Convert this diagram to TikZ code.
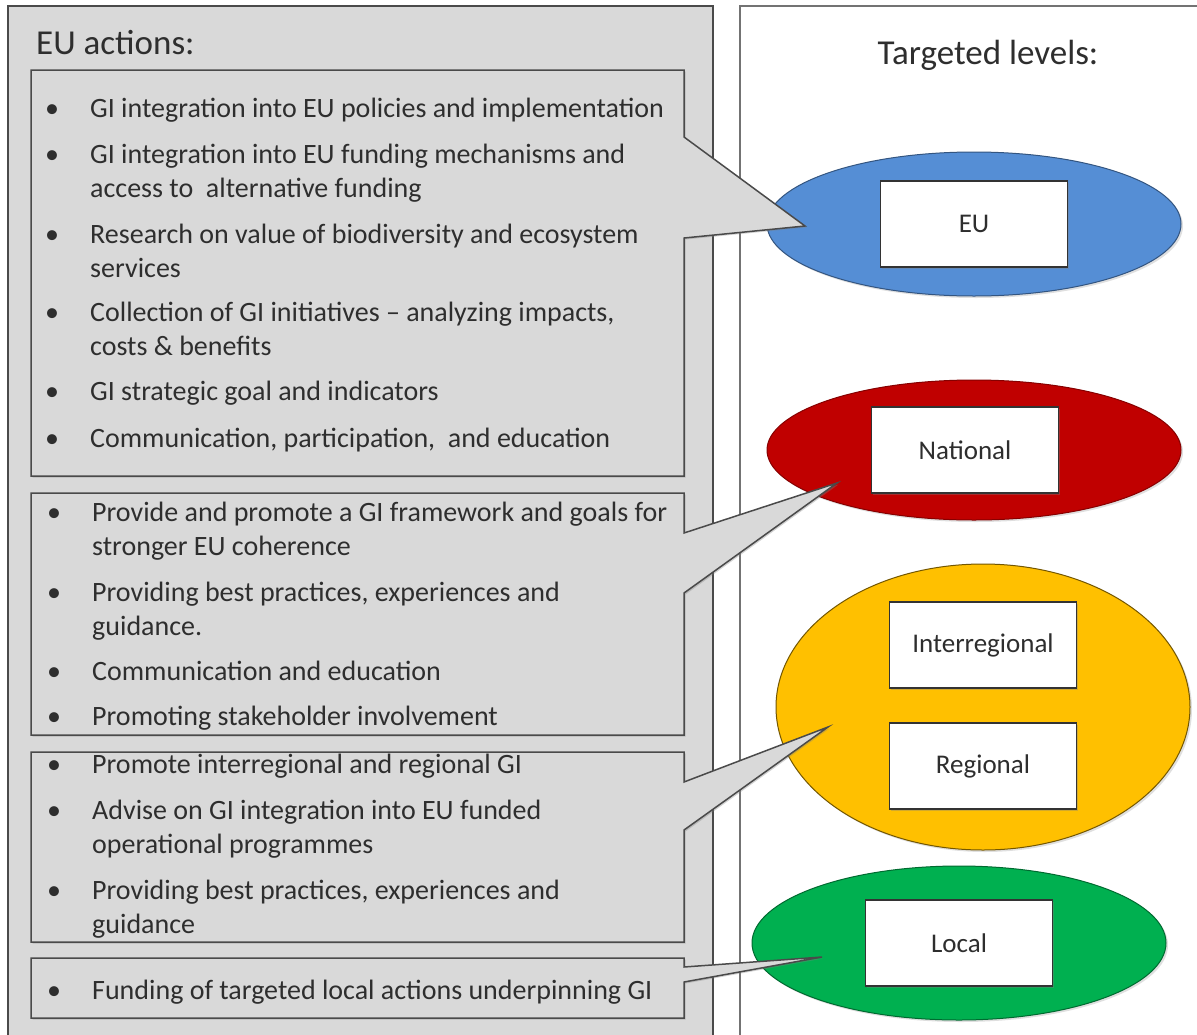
\documentclass[tikz,border=0pt]{standalone}
\usepackage{fontspec}
\setmainfont{Carlito}
\usetikzlibrary{shapes.geometric,shadows}

\definecolor{panelgray}{HTML}{D9D9D9}
\definecolor{boxline}{HTML}{4A4A4A}
\definecolor{txt}{HTML}{2E2E2E}
\definecolor{eublue}{HTML}{558ED5}
\definecolor{natred}{HTML}{C00000}
\definecolor{regyellow}{HTML}{FFC000}
\definecolor{locgreen}{HTML}{00B050}

\newcommand{\actbul}{\llap{\makebox[45pt][l]{\textbullet}}}

\tikzset{
  callout/.style={draw=boxline, fill=panelgray, line width=1.5pt,
    drop shadow={shadow xshift=1.5pt, shadow yshift=-1.5pt, opacity=0.35}},
  act/.style={anchor=base west, align=left, inner sep=0pt, text=txt,
    font=\fontsize{28}{34}\selectfont},
  level/.style={ellipse, inner sep=0pt, minimum width=414pt, line width=1pt,
    drop shadow={shadow xshift=2pt, shadow yshift=-2pt, opacity=0.25}},
  lvlbox/.style={draw=black!80, fill=white, line width=1.2pt, minimum width=187pt,
    minimum height=86pt, text=txt, font=\fontsize{27}{32}\selectfont,
    drop shadow={shadow xshift=1.5pt, shadow yshift=-1.5pt, opacity=0.35}},
}

\begin{document}
\begin{tikzpicture}[x=1pt, y=-1pt]
  \useasboundingbox (0,0) rectangle (1197,1034);
  % two panels
  \draw[boxline, fill=panelgray, line width=1.5pt] (8,6) rectangle (713,1050);
  \draw[black!55, fill=white, line width=1.5pt] (740,6) rectangle (1210,1050);
  \node[anchor=base west, inner sep=0pt, text=txt, font=\fontsize{35}{40}\selectfont] (acthead) at (36,54) {EU actions:};
  \node[anchor=base, inner sep=0pt, text=txt, font=\fontsize{35}{40}\selectfont] (lvlhead) at (988,64) {Targeted levels:};

  % targeted levels
  \node[level, minimum height=144pt, fill=eublue, draw=eublue!60!black] (eu) at (974,224) {};
  \node[level, minimum height=140pt, fill=natred, draw=natred!70!black] (nat) at (974,450) {};
  \node[level, minimum height=286pt, fill=regyellow, draw=regyellow!45!black] (reg) at (983,707) {};
  \node[level, minimum height=154pt, fill=locgreen, draw=locgreen!60!black] (loc) at (959,943) {};
  \node[lvlbox] (eubox) at (eu) {EU};
  \node[lvlbox] (natbox) at (965,450) {National};
  \node[lvlbox] (interbox) at (983,645) {Interregional};
  \node[lvlbox] (regbox) at (983,766) {Regional};
  \node[lvlbox] (locbox) at (loc) {Local};

  % callout boxes, tips end inside the ellipses
  \coordinate (eutip) at (805,226);
  \coordinate (nattip) at (837,483);
  \coordinate (regtip) at (828,727);
  \coordinate (loctip) at (822,957);
  \draw[callout] (31,70) -- (684,70) -- (684,137) -- (eutip) -- (684,238) -- (684,476) -- (31,476) -- cycle;
  \draw[callout] (31,493) -- (684,493) -- (684,533) -- (nattip) -- (684,593) -- (684,735) -- (31,735) -- cycle;
  \draw[callout] (31,752) -- (684,752) -- (684,782) -- (regtip) -- (684,830) -- (684,942) -- (31,942) -- cycle;
  \draw[callout] (31,958) -- (684,958) -- (684,967) -- (loctip) -- (684,982) -- (684,1018) -- (31,1018) -- cycle;

  % EU level actions (base = last line)
  \node[act] (a1) at (90,117) {\actbul GI integration into EU policies and implementation};
  \node[act] (a2) at (90,197) {\actbul GI integration into EU funding mechanisms and\\access to~ alternative funding};
  \node[act] (a3) at (90,277) {\actbul Research on value of biodiversity and ecosystem\\services};
  \node[act] (a4) at (90,355) {\actbul Collection of GI initiatives – analyzing impacts,\\costs \& benefits};
  \node[act] (a5) at (90,400) {\actbul GI strategic goal and indicators};
  \node[act] (a6) at (90,447) {\actbul Communication, participation,~ and education};
  % national
  \node[act] (n1) at (92,555) {\actbul Provide and promote a GI framework and goals for\\stronger EU coherence};
  \node[act] (n2) at (92,635) {\actbul Providing best practices, experiences and\\guidance.};
  \node[act] (n3) at (92,680) {\actbul Communication and education};
  \node[act] (n4) at (92,725) {\actbul Promoting stakeholder involvement};
  % regional
  \node[act] (r1) at (92,773) {\actbul Promote interregional and regional GI};
  \node[act] (r2) at (92,853) {\actbul Advise on GI integration into EU funded\\operational programmes};
  \node[act] (r3) at (92,933) {\actbul Providing best practices, experiences and\\guidance};
  % local
  \node[act] (l1) at (92,999) {\actbul Funding of targeted local actions underpinning GI};
\end{tikzpicture}
\end{document}
